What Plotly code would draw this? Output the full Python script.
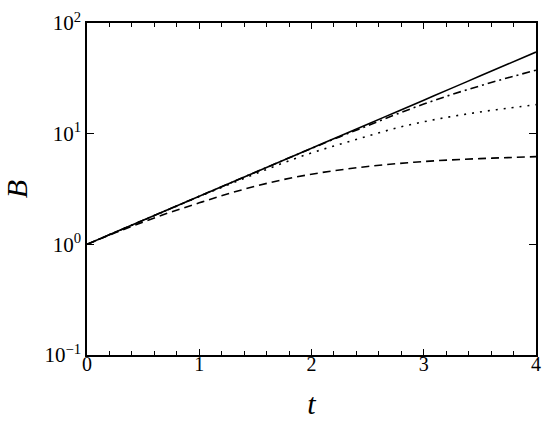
import plotly.graph_objects as go

t = [0.0, 0.25, 0.5, 0.75, 1.0, 1.25, 1.5, 1.75, 2.0, 2.25, 2.5, 2.75, 3.0, 3.25, 3.5, 3.75, 4.0]

B_solid = [1.000, 1.284, 1.649, 2.117, 2.718, 3.490, 4.482, 5.755, 7.389, 9.488,
           12.18, 15.64, 20.09, 25.79, 33.12, 42.52, 54.60]
B_dashdot = [1.000, 1.284, 1.649, 2.117, 2.718, 3.490, 4.482, 5.750, 7.350, 9.350,
             11.80, 14.90, 18.50, 22.60, 27.00, 32.00, 37.40]
B_dotted = [1.000, 1.284, 1.648, 2.110, 2.700, 3.430, 4.330, 5.450, 6.700, 8.000,
            9.500, 11.20, 12.80, 14.30, 15.70, 17.00, 18.30]
B_dashed = [1.000, 1.270, 1.590, 1.960, 2.370, 2.850, 3.350, 3.850, 4.300, 4.700,
            5.050, 5.350, 5.600, 5.800, 5.950, 6.080, 6.200]

x_ticks = [0, 1, 2, 3, 4]
y_ticks = [0.1, 1, 10, 100]

FONT = "Liberation Serif"

fig = go.Figure()
series = [
    (B_solid, "solid"),
    (B_dashdot, "8px,4px,2px,4px"),
    (B_dotted, "2px,6px"),
    (B_dashed, "8px,5px"),
]
for ys, dash in series:
    fig.add_trace(go.Scatter(
        x=t, y=ys, mode="lines",
        line=dict(color="black", width=1.6, dash=dash, shape="spline"),
        showlegend=False,
    ))

fig.update_layout(
    width=550, height=424,
    margin=dict(l=87, r=9, t=18, b=68),
    paper_bgcolor="white", plot_bgcolor="white",
    font=dict(family=FONT, color="black", size=20),
)
fig.update_xaxes(
    range=[0, 4], tickvals=x_ticks, ticktext=[str(v) for v in x_ticks],
    ticks="inside", ticklen=6, tickwidth=1.3, tickcolor="black",
    minor=dict(dtick=0.2, ticks="inside", ticklen=4, tickwidth=1.2, tickcolor="black"),
    showline=True, linecolor="black", linewidth=1.5, mirror="ticks",
    showgrid=False, zeroline=False,
    tickfont=dict(size=20, family=FONT),
    ticklabelstandoff=-10,
    title=dict(text="<i>t</i>", font=dict(size=30, family=FONT), standoff=19),
)
fig.update_yaxes(
    type="log", range=[-1, 2], tickvals=y_ticks,
    ticktext=["10<sup>−1</sup>", "10<sup>0</sup>", "10<sup>1</sup>", "10<sup>2</sup>"],
    ticks="inside", ticklen=7, tickwidth=1.3, tickcolor="black",
    showline=True, linecolor="black", linewidth=1.5, mirror="ticks",
    showgrid=False, zeroline=False,
    tickfont=dict(size=21, family=FONT),
    title=dict(text="<i>B</i>", font=dict(size=30, family=FONT), standoff=12),
)

fig.write_html("out.html", config={"displayModeBar": False})

with open("out.html", "r", encoding="utf-8") as f:
    html = f.read()
html = html.replace("<head>", "<head><style>html,body{margin:0;padding:0;overflow:hidden;}</style>", 1)
with open("out.html", "w", encoding="utf-8") as f:
    f.write(html)
